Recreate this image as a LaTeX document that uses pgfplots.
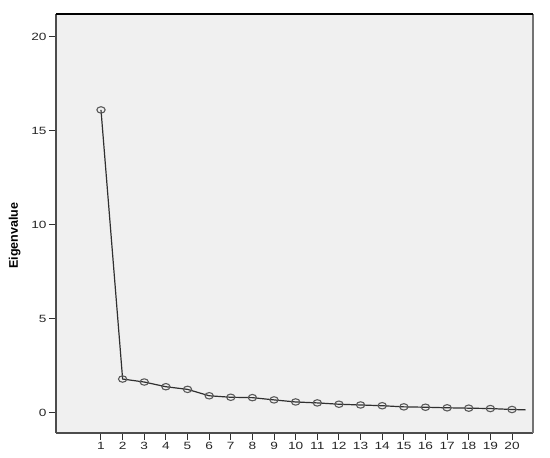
\documentclass[border=0pt]{standalone}
\usepackage{pgfplots}
\pgfplotsset{compat=1.18}
\usepackage{fontspec}
\setmainfont{Liberation Sans}
\newfontfamily\widefont[FakeStretch=1.3]{Liberation Sans}
\definecolor{bgray}{HTML}{F0F0F0}
\definecolor{lgray}{HTML}{303030}
\begin{document}
\begin{tikzpicture}
\begin{axis}[
  scale only axis,
  width=477pt, height=419pt,
  xmin=-1.08, xmax=20.97,
  ymin=-1.08, ymax=21.2,
  axis background/.style={fill=bgray},
  axis line style={draw=none},
  xtick={1,...,20},
  ytick={0,5,10,15,20},
  tick align=outside,
  major tick length=7pt,
  tick style={draw=lgray, line width=1pt},
  xtick pos=bottom, ytick pos=left,
  /pgf/number format/assume math mode=true,
  ticklabel style={font=\widefont\fontsize{10.5}{12}\selectfont, text=black!85},
  xticklabel style={yshift=1pt},
  yticklabel style={xshift=1pt},
  ylabel={\textbf{Eigenvalue}},
  ylabel style={font=\fontsize{12.5}{14}\selectfont, yshift=4pt, xshift=-12pt},
  clip=false,
]
\coordinate (sw) at (rel axis cs:0,0);
\draw[draw=black!70, line width=1.5pt] (rel axis cs:0,0) -- (rel axis cs:0,1);
\draw[draw=black!70, line width=1.5pt] (rel axis cs:0,0) -- (rel axis cs:1,0);
\draw[draw=black!55, line width=2pt] (rel axis cs:1,0) -- (rel axis cs:1,1);
\draw[draw=black, line width=2pt] (rel axis cs:0,1) -- (rel axis cs:1,1);
\addplot[color=lgray, line width=1.2pt, mark=o, mark size=3.2pt,
  mark indices={1,...,20},
  mark options={draw=black!65, fill=bgray, line width=1.1pt, xscale=1.3}] coordinates {
(1,16.1) (2,1.79) (3,1.63) (4,1.38) (5,1.24) (6,0.90) (7,0.82) (8,0.80)
(9,0.68) (10,0.57) (11,0.52) (12,0.45) (13,0.41) (14,0.37) (15,0.31)
(16,0.29) (17,0.26) (18,0.24) (19,0.22) (20,0.17) (20.63,0.15)
};
\end{axis}
\pgfresetboundingbox
\path (sw) ++(-56pt,-25pt) rectangle ++(550pt,458pt);
\end{tikzpicture}
\end{document}
